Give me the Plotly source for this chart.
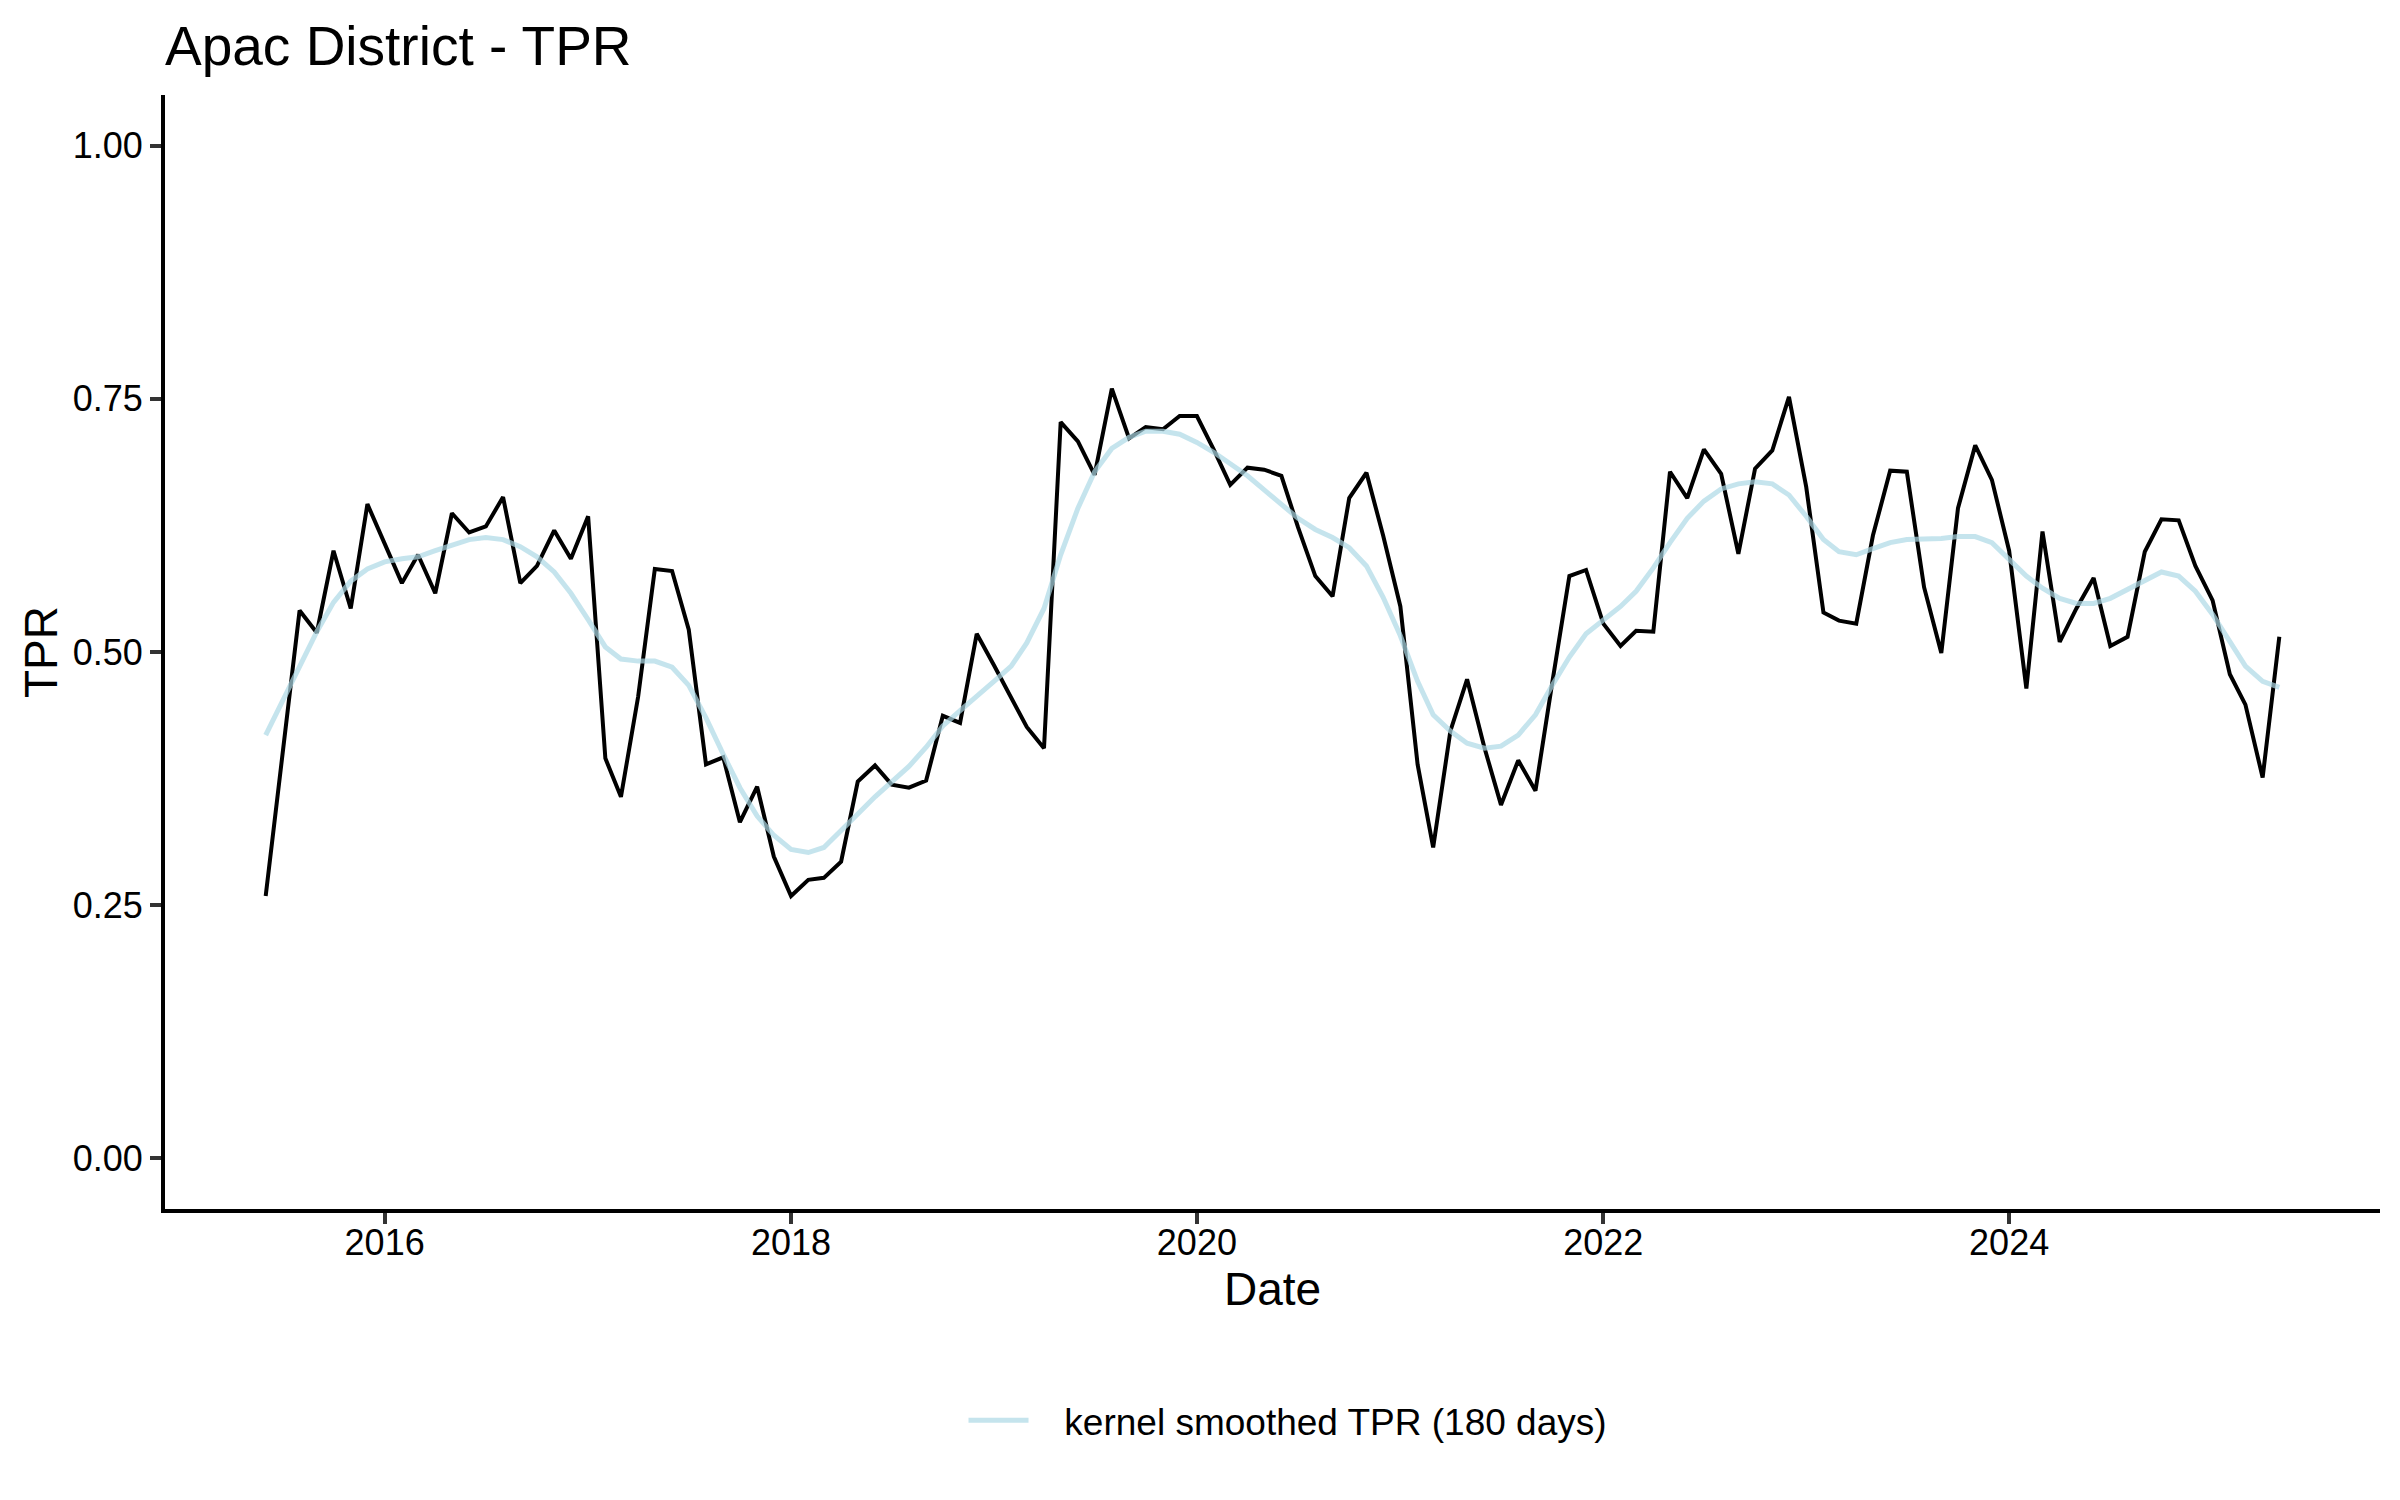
import pandas as pd
import plotly.graph_objects as go

# ---- data (monthly, June 2015 – May 2025) ----
start_month = "2015-06-01"
n_months = 120
dates = pd.date_range(start_month, periods=n_months, freq="MS")

tpr = [
    0.259, 0.400, 0.541, 0.519, 0.600, 0.543, 0.646, 0.607, 0.568, 0.596,
    0.558, 0.637, 0.618, 0.624, 0.653, 0.568, 0.585, 0.620, 0.592, 0.634,
    0.395, 0.357, 0.456, 0.582, 0.580, 0.522, 0.389, 0.396, 0.332, 0.367,
    0.298, 0.259, 0.275, 0.277, 0.293, 0.372, 0.388, 0.369, 0.366, 0.373,
    0.437, 0.430, 0.518, 0.487, 0.456, 0.426, 0.405, 0.727, 0.708, 0.675,
    0.760, 0.711, 0.722, 0.720, 0.733, 0.733, 0.699, 0.665, 0.682, 0.680,
    0.674, 0.623, 0.575, 0.555, 0.652, 0.677, 0.615, 0.545, 0.389, 0.307,
    0.422, 0.473, 0.406, 0.349, 0.393, 0.363, 0.469, 0.575, 0.581, 0.528,
    0.506, 0.521, 0.520, 0.678, 0.652, 0.700, 0.676, 0.597, 0.681, 0.699,
    0.752, 0.663, 0.539, 0.531, 0.528, 0.615, 0.679, 0.678, 0.564, 0.499,
    0.642, 0.704, 0.670, 0.600, 0.464, 0.619, 0.510, 0.543, 0.573, 0.506,
    0.515, 0.599, 0.631, 0.630, 0.585, 0.551, 0.478, 0.448, 0.376, 0.515,
]

tpr_smooth = [
    0.418, 0.452, 0.486, 0.520, 0.549, 0.570, 0.582, 0.589, 0.592, 0.594,
    0.600, 0.606, 0.611, 0.613, 0.611, 0.604, 0.594, 0.579, 0.558, 0.532,
    0.505, 0.493, 0.491, 0.491, 0.485, 0.467, 0.435, 0.399, 0.366, 0.338,
    0.319, 0.305, 0.302, 0.307, 0.323, 0.340, 0.357, 0.372, 0.387, 0.406,
    0.427, 0.442, 0.457, 0.471, 0.486, 0.509, 0.543, 0.596, 0.642, 0.678,
    0.701, 0.712, 0.718, 0.718, 0.715, 0.707, 0.697, 0.686, 0.674, 0.660,
    0.646, 0.632, 0.621, 0.613, 0.603, 0.585, 0.554, 0.516, 0.471, 0.438,
    0.422, 0.410, 0.405, 0.407, 0.418, 0.438, 0.467, 0.495, 0.518, 0.532,
    0.545, 0.560, 0.583, 0.608, 0.632, 0.649, 0.661, 0.666, 0.668, 0.666,
    0.655, 0.634, 0.611, 0.599, 0.596, 0.602, 0.608, 0.611, 0.611, 0.612,
    0.614, 0.614, 0.608, 0.592, 0.575, 0.563, 0.553, 0.548, 0.548, 0.553,
    0.562, 0.571, 0.579, 0.575, 0.560, 0.537, 0.509, 0.486, 0.471, 0.465,
]

x_tick_vals = ["2016-01-01", "2018-01-01", "2020-01-01", "2022-01-01", "2024-01-01"]
x_tick_text = ["2016", "2018", "2020", "2022", "2024"]
y_tick_vals = [0.0, 0.25, 0.5, 0.75, 1.0]
y_tick_text = ["0.00", "0.25", "0.50", "0.75", "1.00"]

title_text = "Apac District - TPR"
legend_label = "kernel smoothed TPR (180 days)"

# ---- figure ----
FONT = "Liberation Sans, Arial, Helvetica, sans-serif"
# the page body has an 8px default margin, so the figure is 8px smaller
FIG_W, FIG_H = 2392, 1492

fig = go.Figure()
fig.add_trace(go.Scatter(
    x=dates, y=tpr, mode="lines",
    line=dict(color="black", width=4),
    showlegend=False, name="TPR",
))
fig.add_trace(go.Scatter(
    x=dates, y=tpr_smooth, mode="lines",
    line=dict(color="rgba(173,216,230,0.7)", width=5),
    showlegend=True, name="\u00a0\u00a0\u00a0" + legend_label,
))

span = dates[-1] - dates[0]
x_range = [dates[0] - span * 0.05, dates[-1] + span * 0.05]

fig.update_layout(
    width=FIG_W, height=FIG_H, autosize=False,
    paper_bgcolor="white", plot_bgcolor="white",
    margin=dict(l=157, r=20, t=87, b=291),
    font=dict(family=FONT, color="black", size=36),
    title=dict(text=title_text, x=0, xref="paper", xanchor="left",
               y=1 - 38 / FIG_H, yref="container", yanchor="middle",
               font=dict(size=55, family=FONT, color="black")),
    legend=dict(orientation="h", x=0.507, xanchor="center", xref="paper",
                y=-0.19, yanchor="middle", yref="paper",
                font=dict(size=37, family=FONT, color="black"),
                itemwidth=60, bgcolor="rgba(0,0,0,0)"),
    xaxis=dict(
        type="date", range=x_range,
        tickmode="array", tickvals=x_tick_vals, ticktext=x_tick_text,
        showgrid=False, zeroline=False,
        showline=True, linecolor="black", linewidth=4,
        ticks="outside", ticklen=11, tickwidth=4, tickcolor="#333333",
        tickfont=dict(size=36, color="black"),
        ticklabelstandoff=-12,
        title=dict(text="Date", font=dict(size=46, color="black"), standoff=0),
    ),
    yaxis=dict(
        range=[-0.05, 1.05],
        tickmode="array", tickvals=y_tick_vals, ticktext=y_tick_text,
        showgrid=False, zeroline=False,
        showline=True, linecolor="black", linewidth=4,
        ticks="outside", ticklen=11, tickwidth=4, tickcolor="#333333",
        tickfont=dict(size=36, color="black"),
        title=dict(text="TPR", font=dict(size=46, color="black"), standoff=2),
    ),
)

fig.write_html("out.html")
